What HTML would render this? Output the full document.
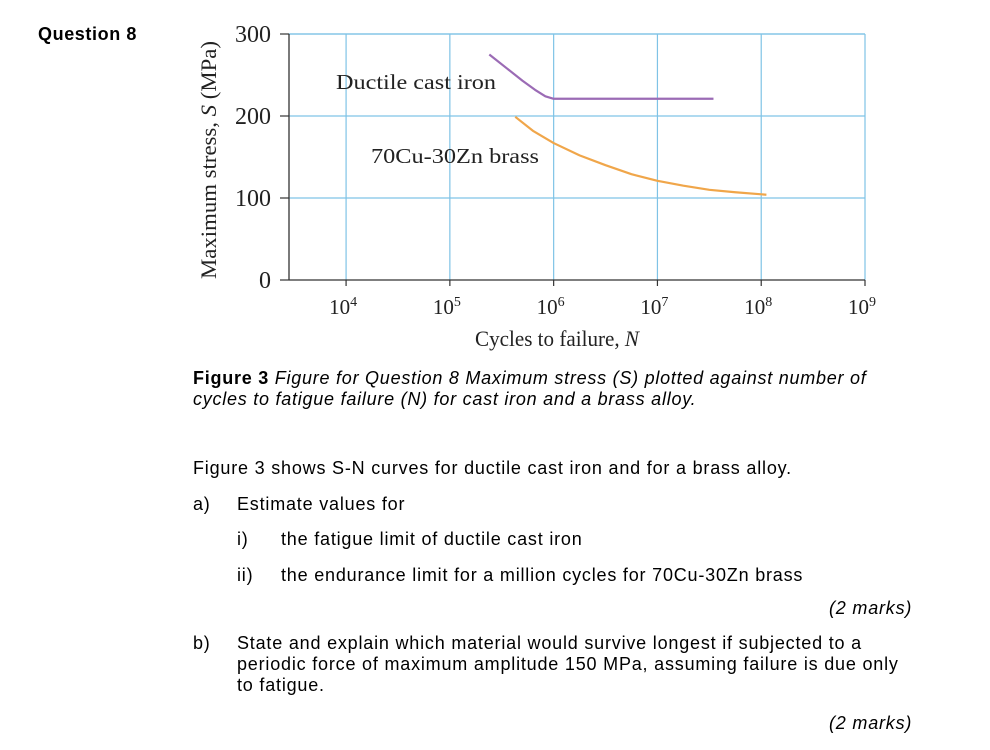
<!DOCTYPE html>
<html><head><meta charset="utf-8"><style>
body{margin:0;width:990px;height:750px;background:#fff;position:relative;font-family:"Liberation Sans",Arial,sans-serif;color:#000;overflow:hidden}
.t{position:absolute;font-size:18px;letter-spacing:0.8px;white-space:nowrap;line-height:21px}
</style></head><body>
<div class="t" style="left:38px;top:24px;font-weight:bold;letter-spacing:0.6px">Question 8</div>
<svg width="990" height="360" style="position:absolute;left:0;top:0" font-family="Liberation Serif, serif">
<g id="grid"></g><g id="axes"></g><g id="series"></g>
<text transform="translate(216,160) rotate(-90)" text-anchor="middle" font-size="22" fill="#222" textLength="238" lengthAdjust="spacingAndGlyphs">Maximum stress, <tspan font-style="italic">S</tspan> (MPa)</text>
<text x="475" y="346" font-size="22" fill="#222" textLength="164" lengthAdjust="spacingAndGlyphs">Cycles to failure, <tspan font-style="italic">N</tspan></text>
<text x="336" y="89" font-size="21" fill="#222" textLength="160" lengthAdjust="spacingAndGlyphs">Ductile cast iron</text>
<text x="371" y="163" font-size="21" fill="#222" textLength="168" lengthAdjust="spacingAndGlyphs">70Cu-30Zn brass</text>
</svg>
<div class="t" style="left:193px;top:368px;letter-spacing:0.75px"><b>Figure 3</b> <i>Figure for Question 8 Maximum stress (S) plotted against number of<br>cycles to fatigue failure (N) for cast iron and a brass alloy.</i></div>
<div class="t" style="left:193px;top:458px">Figure 3 shows S-N curves for ductile cast iron and for a brass alloy.</div>
<div class="t" style="left:193px;top:494px">a)</div>
<div class="t" style="left:237px;top:494px">Estimate values for</div>
<div class="t" style="left:237px;top:529px">i)</div>
<div class="t" style="left:281px;top:529px">the fatigue limit of ductile cast iron</div>
<div class="t" style="left:237px;top:565px">ii)</div>
<div class="t" style="left:281px;top:565px">the endurance limit for a million cycles for 70Cu-30Zn brass</div>
<div class="t" style="left:829px;top:598px;font-style:italic">(2 marks)</div>
<div class="t" style="left:193px;top:633px">b)</div>
<div class="t" style="left:237px;top:633px">State and explain which material would survive longest if subjected to a<br>periodic force of maximum amplitude 150 MPa, assuming failure is due only<br>to fatigue.</div>
<div class="t" style="left:829px;top:713px;font-style:italic">(2 marks)</div>
<script>
const yTicks=[0,100,200,300];
const xTickExps=[4,5,6,7,8,9];
const ironLogN=[5.38,5.55,5.7,5.82,5.92,6.0,7.54];
const ironS=[275,258,243,232,224,221,221];
const brassLogN=[5.63,5.8,6.0,6.25,6.5,6.75,7.0,7.25,7.5,7.75,8.05];
const brassS=[199,182,167,152,140,129,121,115,110,107,104];
const X0=289,X1=865,LMIN=3.45,LMAX=9;
const x=l=>X0+(l-LMIN)/(LMAX-LMIN)*(X1-X0);
const y=s=>280-s*0.82;
const NS='http://www.w3.org/2000/svg';
function mk(tag,attrs,parent){const e=document.createElementNS(NS,tag);for(const k in attrs)e.setAttribute(k,attrs[k]);parent.appendChild(e);return e;}
const g=document.getElementById('grid'),ax=document.getElementById('axes'),se=document.getElementById('series');
yTicks.forEach(v=>{
 if(v>0){const l=mk('line',{x1:X0,x2:X1,y1:y(v),y2:y(v),stroke:'#7fc3e6','stroke-width':1.2},g);
 
 }
 const tk=mk('line',{x1:X0-9,x2:X0,y1:y(v),y2:y(v),stroke:'#333','stroke-width':1.2},ax);
 
 
 const t=mk('text',{x:X0-18,y:y(v)+8,'text-anchor':'end','font-size':24,fill:'#222'},ax);
 t.textContent=v;
 
 
});
xTickExps.forEach(e=>{
 const l=mk('line',{x1:x(e),x2:x(e),y1:y(300),y2:y(0),stroke:'#7fc3e6','stroke-width':1.2},g);
 
 
 const tk=mk('line',{x1:x(e),x2:x(e),y1:y(0),y2:y(0)+6,stroke:'#333','stroke-width':1.2},ax);
 
 
 const t=mk('text',{x:x(e)-3,y:314,'text-anchor':'middle','font-size':21,fill:'#222'},ax);
 t.innerHTML='10<tspan dy="-8" font-size="14">'+e+'</tspan>';
 
 
});
const topL=mk('line',{x1:X0,x2:X1,y1:y(300),y2:y(300),stroke:'#7fc3e6','stroke-width':1.2},g);


const ya=mk('line',{x1:X0,x2:X0,y1:y(300),y2:y(0),stroke:'#333','stroke-width':1.3},ax);


const xa=mk('line',{x1:X0,x2:X1,y1:y(0),y2:y(0),stroke:'#333','stroke-width':1.3},ax);


const p1=mk('polyline',{points:ironLogN.map((l,i)=>x(l)+','+y(ironS[i])).join(' '),fill:'none',stroke:'#9b6bb5','stroke-width':2.2,'stroke-linejoin':'round'},se);


const p2=mk('polyline',{points:brassLogN.map((l,i)=>x(l)+','+y(brassS[i])).join(' '),fill:'none',stroke:'#f0a64a','stroke-width':2.2,'stroke-linejoin':'round'},se);


</script>
</body></html>
